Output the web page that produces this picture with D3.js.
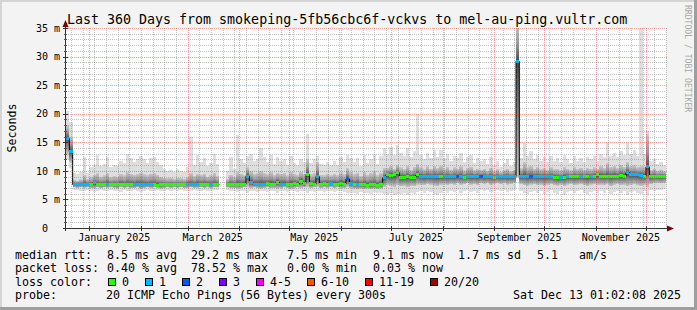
<!DOCTYPE html>
<html><head><meta charset="utf-8">
<script src="https://cdn.jsdelivr.net/npm/d3@7"></script>
<style>
html,body{margin:0;padding:0;background:#f3f3f3;}
svg{display:block;}
text{font-family:"DejaVu Sans Mono",monospace;white-space:pre;}
</style></head><body>
<svg id="c" width="697" height="310"></svg>
<script>
// ---------------- data ----------------
const titleText = "Last 360 Days from smokeping-5fb56cbc6f-vckvs to mel-au-ping.vultr.com";
const endTimeStr = "2025-12-13T01:02:08Z";
const spanDays = 360;
const stepDays = 2;

const median = [
 15.7,13.4,7.6,7.6,7.6,7.7,7.6,7.6,7.9,7.6,
 7.6,7.6,7.7,7.6,7.6,7.6,7.7,7.6,7.6,7.6,
 7.6,7.7,7.6,7.6,7.6,7.6,7.6,7.5,7.6,7.6,
 7.6,7.6,7.6,7.6,7.6,7.6,7.7,7.6,7.6,7.7,
 7.6,7.6,7.7,7.6,7.6,7.6,null,null,7.6,7.6,
 7.6,7.7,7.6,7.7,9.1,8.0,7.7,7.7,7.7,7.7,
 7.8,7.7,7.7,8.0,7.7,7.7,7.6,7.7,7.8,7.7,
 8.2,7.8,9.4,7.8,7.7,9.0,7.7,7.8,7.7,7.8,
 7.7,7.7,7.8,7.7,8.6,7.8,7.6,7.7,7.6,7.6,
 7.5,7.6,7.6,7.5,7.6,8.8,9.3,9.2,9.3,9.7,
 8.9,8.9,9.0,8.9,8.9,9.3,9.0,9.0,9.0,9.0,
 9.0,9.0,9.0,9.0,9.0,9.0,9.0,9.0,9.0,8.9,
 9.0,9.0,9.0,9.0,9.0,9.0,9.0,9.0,8.9,9.0,
 9.0,9.0,9.0,9.0,9.0,29.2,9.0,9.1,9.0,9.0,
 9.0,9.0,9.0,9.0,9.0,9.0,8.9,8.8,8.8,8.9,
 9.0,9.0,9.0,9.0,9.0,9.0,9.0,9.0,9.0,9.3,
 9.1,9.1,9.1,9.1,9.1,9.1,9.2,9.1,9.7,9.3,
 9.3,9.3,9.2,9.1,10.7,9.0,9.1,9.0,9.0,9.1
];
const loss = [
 1,1,1,1,1,1,1,0,1,0,
 0,0,1,0,0,0,0,0,0,0,
 1,1,1,1,1,1,0,0,0,0,
 0,0,0,0,0,0,1,1,1,1,
 0,0,0,1,0,0,null,null,0,0,
 0,0,0,0,1,1,1,1,1,1,
 0,0,0,0,1,1,0,0,0,0,
 0,0,0,0,0,1,0,0,0,1,
 0,0,0,0,2,1,0,1,0,0,
 0,0,0,0,0,1,0,0,0,0,
 0,0,0,0,0,0,1,1,1,1,
 1,1,0,1,1,1,1,2,1,0,
 1,1,1,1,2,1,1,1,0,1,
 1,1,1,1,1,1,1,1,1,2,
 1,1,1,1,1,1,0,0,1,0,
 1,0,0,0,1,0,0,1,0,0,
 0,0,0,0,0,0,0,0,1,1,
 1,1,1,0,1,0,0,0,0,0
];
const smokeHi = [
 20.5,18.5,9.6,9.4,9.8,12.4,9.6,10.6,11.0,12.8,
 10.8,11.2,12.4,10.6,11.0,10.8,11.8,11.4,13.0,12.2,
 11.6,12.0,12.6,12.0,11.4,12.2,12.4,11.6,11.0,10.4,
 10.0,10.2,9.8,10.4,10.0,9.8,10.6,16.0,11.0,12.8,
 11.6,12.2,10.8,11.4,13.0,11.2,null,null,10.0,12.4,
 10.4,16.3,12.0,11.4,12.6,13.0,11.8,12.0,14.0,12.4,
 11.6,12.8,11.2,12.4,11.8,12.0,11.0,12.6,11.4,11.0,
 12.0,11.6,16.4,11.4,12.0,12.6,11.2,11.0,11.6,11.0,
 11.8,11.0,12.4,11.6,12.8,12.2,11.6,12.2,10.8,12.8,
 11.4,12.0,13.0,11.2,12.6,14.0,13.0,14.2,12.8,14.6,
 13.2,12.6,14.0,12.4,13.4,20.0,12.8,12.0,13.2,12.2,
 13.6,12.4,13.6,12.2,13.0,11.8,12.6,12.2,13.2,11.6,
 12.4,12.8,11.4,12.2,11.8,12.0,11.2,12.4,11.0,11.8,
 10.6,11.4,12.0,10.8,11.6,36,12.2,14.9,12.6,13.4,
 12.0,12.8,11.8,12.4,11.6,12.6,11.8,12.2,11.6,12.8,
 12.0,11.4,12.6,11.8,12.2,11.6,12.4,12.0,12.6,11.8,
 13.0,12.4,15.0,12.6,13.2,12.4,13.4,12.8,15.0,13.0,
 13.6,12.6,36,13.0,16.9,11.8,12.0,11.2,11.6,11.0
];
const smokeQ3 = [
 18.0,16.0,8.4,8.3,8.5,9.2,8.6,8.9,9.3,9.6,
 9.0,9.2,9.6,8.9,9.1,9.0,9.4,9.2,9.8,9.5,
 9.3,9.5,9.7,9.4,9.2,9.5,9.6,9.3,9.0,8.8,
 8.7,8.8,8.6,8.8,8.7,8.6,8.9,9.6,9.1,9.5,
 9.3,9.5,9.0,9.2,9.6,9.1,null,null,8.6,9.3,
 8.9,9.8,9.5,9.3,10.6,9.9,9.5,9.6,10.0,9.6,
 9.4,9.8,9.3,9.7,9.5,9.6,9.2,9.8,9.4,9.3,
 9.8,9.5,12.0,9.4,9.6,11.5,9.3,9.2,9.5,9.2,
 9.5,9.2,9.7,9.4,10.5,9.8,9.4,9.7,9.1,9.8,
 9.3,9.6,9.9,9.2,9.7,10.5,10.5,10.8,10.3,11.0,
 10.6,10.3,10.9,10.2,10.7,11.2,10.6,10.3,10.8,10.4,
 10.9,10.5,10.9,10.3,10.7,10.2,10.6,10.4,10.8,10.1,
 10.5,10.7,10.1,10.4,10.2,10.4,10.0,10.5,9.9,10.3,
 9.8,10.2,10.4,9.9,10.2,36,10.5,11.5,10.6,10.9,
 10.4,10.7,10.3,10.5,10.2,10.6,10.3,10.4,10.1,10.6,
 10.4,10.1,10.6,10.3,10.5,10.2,10.5,10.3,10.6,10.4,
 10.8,10.5,11.4,10.6,10.9,10.5,11.0,10.7,11.5,10.8,
 11.0,10.6,10.8,10.7,16.5,10.2,10.4,10.0,10.2,9.9
];
const smokeQ1 = [
 13.0,11.5,7.1,7.0,7.1,7.0,7.1,7.0,6.9,7.1,
 7.0,7.1,7.0,7.1,7.0,6.9,7.1,7.0,7.1,7.0,
 7.0,7.1,6.9,7.0,7.1,7.0,7.1,7.0,6.9,7.0,
 7.1,7.0,7.1,7.0,7.1,7.0,7.0,7.1,7.0,7.0,
 7.1,7.0,7.1,7.0,7.1,7.1,null,null,7.1,7.0,
 7.0,6.9,7.0,7.1,7.2,7.0,7.1,7.0,6.9,7.0,
 7.1,7.0,7.0,6.9,7.0,7.1,7.0,6.9,7.0,7.1,
 7.0,7.1,7.2,7.0,7.1,7.2,7.0,7.1,7.0,7.1,
 7.0,7.1,7.0,7.0,7.2,7.0,6.9,6.8,6.9,6.8,
 6.9,6.8,6.9,6.8,6.9,7.2,7.5,7.4,7.2,7.5,
 7.3,7.4,7.2,7.4,7.3,7.6,7.6,7.5,7.7,7.6,
 7.4,7.3,7.6,7.7,7.5,7.7,7.6,7.8,7.6,7.7,
 7.8,7.6,7.7,7.5,7.8,7.7,7.8,7.6,7.7,7.8,
 7.7,7.8,7.6,7.7,7.8,9.0,7.7,7.5,7.4,7.6,
 7.7,7.5,7.6,7.3,7.6,7.7,7.5,7.4,7.6,7.3,
 7.6,7.7,7.5,7.6,7.7,7.5,7.3,7.6,7.7,7.5,
 7.6,7.5,7.7,7.3,7.6,7.7,7.5,7.6,7.3,7.6,
 7.7,7.5,7.4,7.6,7.2,7.7,7.8,7.9,7.8,7.9
];
const smokeLo = [
 12.0,10.5,6.6,6.7,6.5,6.4,6.6,6.5,6.3,6.5,
 6.6,6.4,6.5,6.6,6.4,6.5,6.3,6.6,6.4,6.5,
 6.6,6.5,6.3,6.5,6.6,6.4,6.5,6.6,6.4,6.5,
 6.6,6.5,6.6,6.4,6.6,6.5,6.4,6.5,6.6,6.4,
 6.5,6.6,6.4,6.5,6.6,6.7,null,null,6.7,6.4,
 6.5,6.3,6.4,6.5,6.2,6.4,6.5,6.3,6.4,6.5,
 6.3,6.5,6.4,6.2,6.4,6.5,6.3,6.4,6.5,6.3,
 6.4,6.5,6.2,6.4,6.3,6.4,6.5,6.3,6.4,6.5,
 6.3,6.4,6.5,6.3,6.2,6.1,6.2,6.0,6.3,6.1,
 6.2,6.0,6.3,6.1,6.2,6.0,5.8,6.1,5.7,6.0,
 5.9,6.2,5.8,6.1,6.0,6.3,6.4,6.2,6.5,6.3,
 5.9,5.8,6.2,6.4,6.1,6.5,6.3,6.6,6.2,6.4,
 6.6,6.3,6.5,6.2,6.6,6.4,6.7,6.3,6.5,6.6,
 6.4,6.6,6.3,6.5,6.7,8.8,6.5,6.2,6.0,6.3,
 6.5,6.1,6.4,5.9,6.3,6.6,6.2,6.0,6.4,5.8,
 6.3,6.5,6.1,6.4,6.6,6.2,5.9,6.3,6.5,6.1,
 6.4,6.2,6.6,5.9,6.3,6.5,6.1,6.4,5.8,6.3,
 6.5,6.2,5.9,6.4,5.8,6.6,6.5,6.7,6.6,6.8
];

const yTicks = [0,5,10,15,20,25,30,35];
const yTickLabels = [" 0"," 5 m","10 m","15 m","20 m","25 m","30 m","35 m"];
const xLabelMonths = ["2025-01-01","2025-03-01","2025-05-01","2025-07-01","2025-09-01","2025-11-01"];
const xLabels = ["January 2025","March 2025","May 2025","July 2025","September 2025","November 2025"];
const yAxisTitle = "Seconds";

const lossLabels = ["0","1","2","3","4-5","6-10","11-19","20/20"];
const lossColors = ["#26ff00","#00b8ff","#0059ff","#7e00ff","#ff00ff","#ff5500","#ff0000","#a10000"];

const legendRtt = [["median rtt:",15],["8.5 ms avg",107],["29.2 ms max",191],["7.5 ms min",287],["9.1 ms now",373],["1.7 ms sd",458],["5.1",537],["am/s",579]];
const legendLoss = [["packet loss:",15],["0.40 % avg",107],["78.52 % max",191],["0.00 % min",287],["0.03 % now",373]];
const lossColorTitle = "loss color:";
const probeTitle = "probe:";
const probeText = "20 ICMP Echo Pings (56 Bytes) every 300s";
const dateText = "Sat Dec 13 01:02:08 2025";
const watermark = "RRDTOOL / TOBI OETIKER";

// ---------------- drawing ----------------
const W = 697, H = 310;
const svg = d3.select("#c");
const endTime = new Date(endTimeStr);
const startTime = new Date(+endTime - spanDays * 864e5);
const nSteps = median.length;
const times = d3.range(nSteps + 1).map(i => new Date(+startTime + i * stepDays * 864e5));

const X0 = 66, X1 = 666, Y0 = 228, Y1 = 28;
const x = d3.scaleUtc().domain([startTime, endTime]).range([X0, X1]);
const y = d3.scaleLinear().domain([0, 35]).range([Y0, Y1]);

// background & frame shades
svg.append("rect").attr("width", W).attr("height", H).attr("fill", "#f3f3f3");
svg.append("rect").attr("x",0).attr("y",0).attr("width",W).attr("height",2).attr("fill","#d4d4d4");
svg.append("rect").attr("x",0).attr("y",0).attr("width",2).attr("height",H).attr("fill","#d4d4d4");
svg.append("rect").attr("x",0).attr("y",H-3).attr("width",W).attr("height",3).attr("fill","#9e9e9e");
svg.append("rect").attr("x",W-3).attr("y",0).attr("width",3).attr("height",H).attr("fill","#9e9e9e");

// canvas
svg.append("rect").attr("x", X0).attr("y", Y1).attr("width", X1 - X0).attr("height", Y0 - Y1).attr("fill", "#ffffff");

const defs = svg.append("defs");
defs.append("clipPath").attr("id","plotclip").append("rect")
  .attr("x", X0).attr("y", Y1).attr("width", X1 - X0).attr("height", Y0 - Y1);
const gUp = defs.append("linearGradient").attr("id","gUp").attr("x1",0).attr("y1",0).attr("x2",0).attr("y2",1);
gUp.append("stop").attr("offset","0").attr("stop-color","#c8c8c8");
gUp.append("stop").attr("offset","0.55").attr("stop-color","#9a9a9a");
gUp.append("stop").attr("offset","1").attr("stop-color","#4a4a4a");
const gDn = defs.append("linearGradient").attr("id","gDn").attr("x1",0).attr("y1",0).attr("x2",0).attr("y2",1);
gDn.append("stop").attr("offset","0").attr("stop-color","#4a4a4a");
gDn.append("stop").attr("offset","0.5").attr("stop-color","#8a8a8a");
gDn.append("stop").attr("offset","1").attr("stop-color","#c4c4c4");

const plot = svg.append("g").attr("clip-path","url(#plotclip)");

// smoke
const idx = d3.range(nSteps).filter(i => smokeHi[i] != null);
const smoke = plot.append("g").attr("shape-rendering","crispEdges");
smoke.selectAll("rect.light").data(idx).join("rect").attr("class","light")
  .attr("x", i => x(times[i])).attr("width", i => x(times[i+1]) - x(times[i]))
  .attr("y", i => y(smokeHi[i])).attr("height", i => y(smokeLo[i]) - y(smokeHi[i]))
  .attr("fill", "#dedede");
smoke.selectAll("rect.up").data(idx).join("rect").attr("class","up")
  .attr("x", i => x(times[i])).attr("width", i => x(times[i+1]) - x(times[i]))
  .attr("y", i => y(smokeQ3[i])).attr("height", i => y(median[i]) - y(smokeQ3[i]))
  .attr("fill", "url(#gUp)");
smoke.selectAll("rect.dn").data(idx).join("rect").attr("class","dn")
  .attr("x", i => x(times[i])).attr("width", i => x(times[i+1]) - x(times[i]))
  .attr("y", i => y(median[i])).attr("height", i => y(smokeQ1[i]) - y(median[i]))
  .attr("fill", "url(#gDn)");

// grid
const grid = svg.append("g").attr("shape-rendering","crispEdges");
const majorCol = "rgba(235,40,40,0.42)", minorCol = "rgba(120,120,120,0.45)";
const months = d3.utcMonth.range(startTime, endTime);
const weeks = d3.utcSaturday.range(startTime, endTime).filter(w => !months.some(m => Math.abs(m - w) < 864e5 * 0.9));
grid.selectAll("line.vmin").data(weeks).join("line")
  .attr("x1", d => Math.round(x(d)) + 0.5).attr("x2", d => Math.round(x(d)) + 0.5)
  .attr("y1", Y1).attr("y2", Y0).attr("stroke", minorCol).attr("stroke-dasharray","1,1");
const minorY = d3.range(1, 35).filter(v => v % 5 !== 0);
grid.selectAll("line.hmin").data(minorY).join("line")
  .attr("x1", X0).attr("x2", X1)
  .attr("y1", d => Math.round(y(d)) + 0.5).attr("y2", d => Math.round(y(d)) + 0.5)
  .attr("stroke", minorCol).attr("stroke-dasharray","1,1");
grid.selectAll("line.vmaj").data(months).join("line")
  .attr("x1", d => Math.round(x(d)) + 0.5).attr("x2", d => Math.round(x(d)) + 0.5)
  .attr("y1", Y1).attr("y2", Y0).attr("stroke", majorCol).attr("stroke-dasharray","1,1");
grid.selectAll("line.hmaj").data(yTicks.filter(v => v > 0)).join("line")
  .attr("x1", X0).attr("x2", X1 + 2)
  .attr("y1", d => Math.round(y(d)) + 0.5).attr("y2", d => Math.round(y(d)) + 0.5)
  .attr("stroke", majorCol).attr("stroke-dasharray","1,1");

// median black step line
let dPath = "", pen = false;
for (let i = 0; i < nSteps; i++) {
  if (median[i] == null) { pen = false; continue; }
  const xa = x(times[i]), xb = x(times[i+1]), yy = y(median[i]);
  if (!pen) { dPath += `M${xa},${yy}`; pen = true; } else { dPath += `V${yy}`; }
  dPath += `H${xb}`;
}
plot.append("path").attr("d", dPath).attr("fill","none").attr("stroke","#000").attr("stroke-width",1);
// coloured median segments by loss
plot.append("g").attr("shape-rendering","crispEdges")
  .selectAll("rect").data(d3.range(nSteps).filter(i => median[i] != null)).join("rect")
  .attr("x", i => x(times[i])).attr("width", i => x(times[i+1]) - x(times[i]))
  .attr("y", i => y(median[i]) - 1.5).attr("height", 3)
  .attr("fill", i => lossColors[loss[i]]);

// axes
const ax = svg.append("g").attr("shape-rendering","crispEdges");
ax.append("line").attr("x1", X0 - 0.5).attr("x2", X0 - 0.5).attr("y1", Y0 + 3).attr("y2", Y1 - 4).attr("stroke","#333");
ax.append("line").attr("x1", X0 - 3).attr("x2", X1 + 5).attr("y1", Y0 + 0.5).attr("y2", Y0 + 0.5).attr("stroke","#333");
ax.selectAll("line.yt").data(yTicks).join("line")
  .attr("x1", X0 - 3).attr("x2", X0 + 2)
  .attr("y1", d => Math.round(y(d)) + 0.5).attr("y2", d => Math.round(y(d)) + 0.5).attr("stroke","#333");
ax.selectAll("line.ymt").data(minorY).join("line")
  .attr("x1", X0 - 2).attr("x2", X0 + 1)
  .attr("y1", d => Math.round(y(d)) + 0.5).attr("y2", d => Math.round(y(d)) + 0.5).attr("stroke","#555");
ax.selectAll("line.xt").data(months).join("line")
  .attr("x1", d => Math.round(x(d)) + 0.5).attr("x2", d => Math.round(x(d)) + 0.5)
  .attr("y1", Y0 - 2).attr("y2", Y0 + 3).attr("stroke","#333");
// arrows
svg.append("path").attr("d", `M${X0-0.5},${Y1-8} L${X0-3.5},${Y1-1} L${X0+2.5},${Y1-1} Z`).attr("fill","#7f0000");
svg.append("path").attr("d", `M${X1+8},${Y0+0.5} L${X1+1},${Y0-2.5} L${X1+1},${Y0+3.5} Z`).attr("fill","#7f0000");

// y tick labels
svg.selectAll("text.yl").data(yTicks).join("text")
  .attr("x", 36).attr("y", d => y(d) + 3.7)
  .attr("font-size", "10px").attr("fill","#000")
  .text((d, i) => yTickLabels[i]);
// x tick labels (centred mid-month)
svg.selectAll("text.xl").data(xLabelMonths).join("text")
  .attr("x", d => x(d3.utcDay.offset(new Date(d + "T00:00:00Z"), 15)))
  .attr("y", 241).attr("text-anchor","middle")
  .attr("font-size", "10px").attr("fill","#000")
  .text((d, i) => xLabels[i]);

// y axis title
svg.append("text").attr("transform","translate(15.5,128) rotate(-90)")
  .attr("text-anchor","middle").attr("font-size","11.6px").attr("fill","#000").text(yAxisTitle);

// title
svg.append("text").attr("x", 67).attr("y", 24).attr("font-size","13.3px").attr("fill","#000").text(titleText);

// watermark
svg.append("text").attr("transform","translate(685,5) rotate(90)")
  .attr("font-size","8.1px").attr("fill","#a8a8a8").text(watermark);

// legend
const LF = "11.63px", cw = 7.0;
const base = [258.6, 272.2, 285.8, 299.4];
legendRtt.forEach(([t, xx]) => svg.append("text").attr("x", xx).attr("y", base[0]).attr("font-size", LF).text(t));
legendLoss.forEach(([t, xx]) => svg.append("text").attr("x", xx).attr("y", base[1]).attr("font-size", LF).text(t));
svg.append("text").attr("x", 15).attr("y", base[2]).attr("font-size", LF).text(lossColorTitle);
let bx = 108;
lossLabels.forEach((lab, i) => {
  svg.append("rect").attr("x", bx + 0.5).attr("y", 278.5).attr("width", 7).attr("height", 7)
    .attr("fill", lossColors[i]).attr("stroke", "#000").attr("stroke-width", 1).attr("shape-rendering","crispEdges");
  svg.append("text").attr("x", bx + 14).attr("y", base[2]).attr("font-size", LF).text(lab);
  bx = bx + 15 + lab.length * cw + 15;
});
svg.append("text").attr("x", 15).attr("y", base[3]).attr("font-size", LF).text(probeTitle);
svg.append("text").attr("x", 106).attr("y", base[3]).attr("font-size", LF).text(probeText);
svg.append("text").attr("x", 681).attr("y", base[3]).attr("text-anchor","end").attr("font-size", LF).text(dateText);
</script>
</body></html>
